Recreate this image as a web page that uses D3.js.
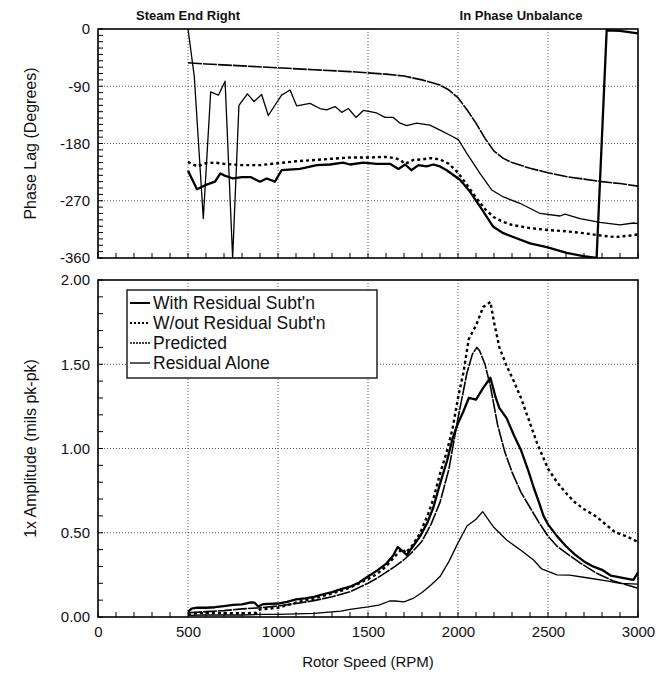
<!DOCTYPE html>
<html>
<head>
<meta charset="utf-8">
<script src="https://cdn.jsdelivr.net/npm/d3@7"></script>
<style>
  body { margin: 0; background: #fff; }
  text { font-family: "Liberation Sans", Arial, sans-serif; fill: #111; }
</style>
</head>
<body>
<div id="chart"></div>
<script>
// ---- data ----
const tickRpm = [0, 500, 1000, 1500, 2000, 2500, 3000];
const tickPhase = [0, -90, -180, -270, -360];
const tickAmp = [0, 0.5, 1.0, 1.5, 2.0];
const seriesNames = ["With Residual Subt'n", "W/out Residual Subt'n", "Predicted", "Residual Alone"];

// phase lag (top)
const withPhaseRpm = [500, 550, 600, 650, 680, 700, 750, 800, 850, 900, 937, 983, 1020, 1122, 1215, 1289, 1361, 1400, 1474, 1548, 1622, 1669, 1706, 1741, 1780, 1826, 1863, 1900, 1937, 2011, 2067, 2122, 2196, 2252, 2307, 2400, 2493, 2604, 2696, 2770, 2826, 2900, 2950, 3000];
const withPhase = [-223, -252, -245, -240, -227, -230, -235, -233, -233, -240, -235, -240, -222, -220, -214, -213, -210, -213, -210, -212, -212, -220, -213, -222, -214, -216, -213, -216, -222, -237, -256, -279, -311, -321, -327, -337, -343, -352, -357, -360, -2, -3, -5, -7];

const woutPhaseRpm = [500, 550, 600, 650, 700, 800, 900, 1000, 1100, 1200, 1300, 1400, 1500, 1600, 1650, 1680, 1706, 1750, 1800, 1850, 1900, 1950, 2000, 2050, 2100, 2150, 2200, 2250, 2300, 2400, 2500, 2600, 2700, 2800, 2870, 2950, 3000];
const woutPhase = [-209, -216, -211, -210, -212, -214, -214, -211, -208, -206, -204, -202, -202, -201, -203, -206, -212, -206, -205, -203, -205, -212, -226, -245, -265, -283, -296, -303, -308, -313, -316, -318, -321, -325, -327, -325, -323];

const predPhaseRpm = [500, 600, 800, 1000, 1200, 1400, 1600, 1700, 1800, 1900, 1950, 2000, 2050, 2100, 2150, 2200, 2250, 2300, 2400, 2500, 2600, 2700, 2800, 2900, 3000];
const predPhase = [-53, -55, -58, -61, -64, -67, -71, -74, -80, -88, -96, -108, -127, -148, -172, -192, -203, -210, -219, -226, -232, -236, -240, -243, -247];

const residPhaseRpm = [500, 535, 585, 626, 669, 706, 748, 783, 830, 867, 909, 946, 1020, 1067, 1104, 1178, 1233, 1270, 1317, 1354, 1391, 1433, 1474, 1548, 1594, 1641, 1678, 1715, 1770, 1844, 1900, 1956, 2002, 2048, 2122, 2187, 2252, 2344, 2456, 2567, 2594, 2678, 2789, 2900, 2974, 3000];
const residPhase = [0, -75, -298, -99, -104, -82, -360, -120, -102, -114, -103, -136, -104, -96, -121, -117, -125, -127, -122, -131, -125, -139, -128, -132, -139, -139, -148, -152, -148, -151, -159, -167, -174, -195, -227, -253, -264, -274, -290, -294, -291, -298, -304, -308, -305, -306];

// amplitude (bottom)
const withAmpRpm = [500, 520, 550, 600, 650, 700, 750, 800, 850, 870, 890, 920, 1000, 1050, 1100, 1150, 1200, 1250, 1300, 1350, 1400, 1450, 1500, 1550, 1600, 1640, 1665, 1695, 1715, 1750, 1790, 1830, 1863, 1900, 1940, 1970, 2000, 2030, 2060, 2100, 2140, 2180, 2210, 2230, 2270, 2310, 2350, 2390, 2420, 2450, 2475, 2500, 2550, 2600, 2650, 2700, 2750, 2800, 2850, 2900, 2950, 2975, 3000];
const withAmp = [0.03, 0.05, 0.055, 0.055, 0.058, 0.065, 0.072, 0.075, 0.087, 0.085, 0.062, 0.077, 0.08, 0.09, 0.105, 0.11, 0.12, 0.135, 0.148, 0.165, 0.18, 0.205, 0.24, 0.275, 0.315, 0.365, 0.415, 0.388, 0.368, 0.42, 0.48, 0.56, 0.65, 0.79, 0.93, 1.06, 1.15, 1.22, 1.30, 1.29, 1.36, 1.42, 1.30, 1.24, 1.18, 1.08, 0.99, 0.87, 0.77, 0.68, 0.60, 0.55, 0.48, 0.42, 0.37, 0.33, 0.30, 0.28, 0.245, 0.235, 0.225, 0.22, 0.265];

const woutAmpRpm = [500, 550, 600, 700, 800, 880, 900, 950, 1000, 1050, 1100, 1150, 1200, 1250, 1300, 1350, 1400, 1450, 1500, 1550, 1600, 1650, 1690, 1710, 1750, 1790, 1830, 1863, 1900, 1940, 1970, 2000, 2030, 2060, 2100, 2140, 2180, 2200, 2230, 2270, 2310, 2350, 2390, 2440, 2500, 2550, 2600, 2650, 2700, 2770, 2820, 2870, 2940, 3000];
const woutAmp = [0.015, 0.022, 0.025, 0.022, 0.022, 0.025, 0.045, 0.05, 0.055, 0.07, 0.085, 0.10, 0.11, 0.125, 0.14, 0.155, 0.175, 0.2, 0.225, 0.255, 0.3, 0.36, 0.405, 0.38, 0.43, 0.50, 0.6, 0.70, 0.85, 0.99, 1.12, 1.30, 1.45, 1.65, 1.73, 1.84, 1.87, 1.75, 1.60, 1.49, 1.40, 1.30, 1.18, 1.03, 0.88, 0.8, 0.735, 0.68, 0.64, 0.595, 0.55, 0.505, 0.477, 0.445];

const predAmpRpm = [500, 600, 700, 800, 900, 1000, 1100, 1200, 1300, 1400, 1500, 1550, 1600, 1650, 1700, 1750, 1800, 1850, 1900, 1950, 2000, 2050, 2080, 2105, 2120, 2150, 2180, 2220, 2260, 2300, 2350, 2400, 2450, 2500, 2550, 2600, 2680, 2770, 2860, 2940, 3000];
const predAmp = [0.025, 0.032, 0.038, 0.048, 0.055, 0.065, 0.08, 0.097, 0.12, 0.15, 0.2, 0.23, 0.265, 0.3, 0.34, 0.39, 0.45, 0.55, 0.68, 0.88, 1.18, 1.45, 1.56, 1.60, 1.58, 1.50, 1.37, 1.14, 0.98, 0.86, 0.74, 0.65, 0.56, 0.48, 0.42, 0.38, 0.32, 0.26, 0.215, 0.19, 0.17];

const residAmpRpm = [500, 600, 700, 800, 900, 1000, 1100, 1200, 1300, 1350, 1400, 1450, 1500, 1560, 1620, 1650, 1700, 1750, 1800, 1850, 1900, 1950, 2000, 2050, 2100, 2137, 2196, 2270, 2344, 2420, 2465, 2550, 2620, 2715, 2826, 2900, 3000];
const residAmp = [0.01, 0.012, 0.012, 0.012, 0.015, 0.016, 0.018, 0.022, 0.03, 0.035, 0.045, 0.053, 0.06, 0.07, 0.095, 0.095, 0.09, 0.11, 0.145, 0.19, 0.24, 0.33, 0.44, 0.54, 0.58, 0.625, 0.536, 0.457, 0.40, 0.338, 0.285, 0.25, 0.248, 0.233, 0.214, 0.2, 0.195];

document.addEventListener('DOMContentLoaded', function() {
    const width = 665;
    const height = 674;
    const left = 98, right = 638;
    const topY0 = 29, topY1 = 258;
    const botY0 = 280, botY1 = 617;

    const styles = [
        { w: 2.3, dash: null },      // with residual
        { w: 2.4, dash: '3,3' },     // w/out residual
        { w: 1.6, dash: '14,1' },    // predicted
        { w: 1.3, dash: null }       // residual alone
    ];

    const svg = d3.select('#chart').append('svg')
        .attr('width', width)
        .attr('height', height);

    const x = d3.scaleLinear().domain([0, 3000]).range([left, right]);
    const yPhase = d3.scaleLinear().domain([-360, 0]).range([topY1, topY0]);
    const yAmp = d3.scaleLinear().domain([0, 2]).range([botY1, botY0]);

    const defs = svg.append('defs');
    defs.append('clipPath').attr('id', 'clipTop').append('rect')
        .attr('x', left).attr('y', topY0).attr('width', right - left).attr('height', topY1 - topY0);
    defs.append('clipPath').attr('id', 'clipBot').append('rect')
        .attr('x', left).attr('y', botY0).attr('width', right - left).attr('height', botY1 - botY0);

    function panel(y, y0, y1, majors, minorStep, fmt, showX) {
        const g = svg.append('g');
        // dotted grid
        g.selectAll('.vgrid').data([500, 1000, 1500, 2000, 2500]).enter().append('line')
            .attr('x1', function(d) { return x(d); }).attr('x2', function(d) { return x(d); })
            .attr('y1', y0).attr('y2', y1)
            .attr('stroke', '#555').attr('stroke-width', 1).attr('stroke-dasharray', '1,2');
        g.selectAll('.hgrid').data(majors.slice(1, -1)).enter().append('line')
            .attr('x1', left).attr('x2', right)
            .attr('y1', function(d) { return y(d); }).attr('y2', function(d) { return y(d); })
            .attr('stroke', '#555').attr('stroke-width', 1).attr('stroke-dasharray', '1,2');

        // left axis with inside minor ticks
        const dom = y.domain();
        const yAxis = d3.axisLeft(y).tickValues(majors).tickFormat(fmt).tickSize(0).tickPadding(8);
        const ay = g.append('g').attr('transform', 'translate(' + left + ',0)').call(yAxis);
        ay.select('.domain').remove();
        ay.selectAll('text').style('font-size', '15px');
        const minors = d3.range(dom[0], dom[1] + minorStep / 2, minorStep);
        g.selectAll('.ytick').data(minors).enter().append('line')
            .attr('x1', left).attr('x2', left + 5)
            .attr('y1', function(d) { return y(d); }).attr('y2', function(d) { return y(d); })
            .attr('stroke', '#000').attr('stroke-width', 1);

        // bottom minor ticks (every 100 rpm)
        g.selectAll('.xtick').data(d3.range(0, 3001, 100)).enter().append('line')
            .attr('x1', function(d) { return x(d); }).attr('x2', function(d) { return x(d); })
            .attr('y1', y1).attr('y2', y1 - 5)
            .attr('stroke', '#000').attr('stroke-width', 1);

        if (showX) {
            const xAxis = d3.axisBottom(x).tickValues(tickRpm).tickFormat(function(d) { return String(d); })
                .tickSize(0).tickPadding(9);
            const ax = g.append('g').attr('transform', 'translate(0,' + y1 + ')').call(xAxis);
            ax.select('.domain').remove();
            ax.selectAll('text').style('font-size', '15px');
        }

        // frame
        g.append('rect')
            .attr('x', left).attr('y', y0).attr('width', right - left).attr('height', y1 - y0)
            .attr('fill', 'none').attr('stroke', '#000').attr('stroke-width', 1.6);
        return g;
    }

    panel(yPhase, topY0, topY1, tickPhase.slice().reverse(), 10, function(d) { return String(d); }, false);
    panel(yAmp, botY0, botY1, tickAmp, 0.1, function(d) { return d.toFixed(2); }, true);

    function drawSeries(clip, y, list) {
        const g = svg.append('g').attr('clip-path', 'url(#' + clip + ')');
        list.forEach(function(s, i) {
            const pts = s[0].map(function(r, k) { return [r, s[1][k]]; });
            const line = d3.line()
                .x(function(d) { return x(d[0]); })
                .y(function(d) { return y(d[1]); });
            g.append('path')
                .datum(pts)
                .attr('d', line)
                .attr('fill', 'none')
                .attr('stroke', '#000')
                .attr('stroke-width', styles[i].w)
                .attr('stroke-dasharray', styles[i].dash)
                .attr('stroke-linejoin', 'round');
        });
    }

    drawSeries('clipTop', yPhase, [
        [withPhaseRpm, withPhase],
        [woutPhaseRpm, woutPhase],
        [predPhaseRpm, predPhase],
        [residPhaseRpm, residPhase]
    ]);
    drawSeries('clipBot', yAmp, [
        [withAmpRpm, withAmp],
        [woutAmpRpm, woutAmp],
        [predAmpRpm, predAmp],
        [residAmpRpm, residAmp]
    ]);

    // titles
    svg.append('text').attr('x', 188).attr('y', 20).attr('text-anchor', 'middle')
        .style('font-size', '13px').style('font-weight', 'bold').text('Steam End Right');
    svg.append('text').attr('x', 521).attr('y', 20).attr('text-anchor', 'middle')
        .style('font-size', '13px').style('font-weight', 'bold').text('In Phase Unbalance');
    svg.append('text').attr('transform', 'translate(36,' + ((topY0 + topY1) / 2) + ') rotate(-90)')
        .attr('text-anchor', 'middle').style('font-size', '16px').text('Phase Lag (Degrees)');
    svg.append('text').attr('transform', 'translate(36,' + ((botY0 + botY1) / 2) + ') rotate(-90)')
        .attr('text-anchor', 'middle').style('font-size', '16px').text('1x Amplitude (mils pk-pk)');
    svg.append('text').attr('x', (left + right) / 2).attr('y', 667).attr('text-anchor', 'middle')
        .style('font-size', '15px').text('Rotor Speed (RPM)');

    // legend
    const lg = svg.append('g').attr('transform', 'translate(127,290)');
    lg.append('rect').attr('width', 250).attr('height', 88)
        .attr('fill', '#fff').attr('stroke', '#000').attr('stroke-width', 1.3);
    const item = lg.selectAll('.legends').data(seriesNames).enter().append('g')
        .attr('transform', function(d, i) { return 'translate(0,' + (13 + i * 20) + ')'; });
    item.append('line').attr('x1', 3).attr('x2', 23).attr('y1', 0).attr('y2', 0)
        .attr('stroke', '#000')
        .attr('stroke-width', function(d, i) { return Math.min(styles[i].w, 2); })
        .attr('stroke-dasharray', function(d, i) { return i === 1 ? '2,2' : (i === 2 ? '2,1' : null); });
    item.append('text').attr('x', 26).attr('y', 6)
        .style('font-size', '17.5px').text(function(d) { return d; });
});
</script>
</body>
</html>
